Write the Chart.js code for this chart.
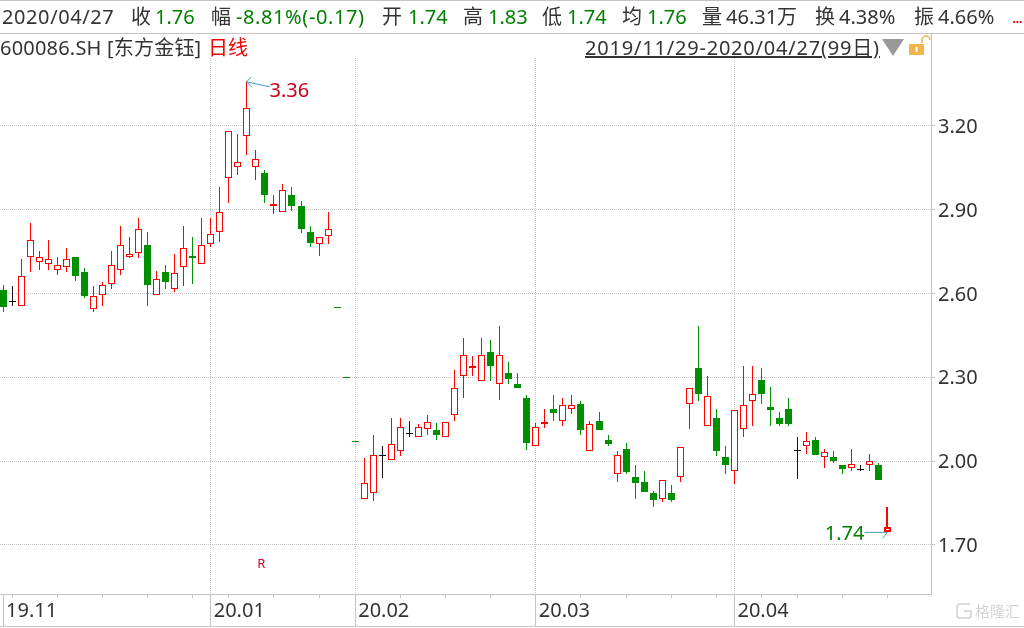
<!DOCTYPE html>
<html>
<head>
<meta charset="utf-8">
<script src="https://cdn.jsdelivr.net/npm/chart.js@4"></script>
<style>
  html, body { margin: 0; padding: 0; background: #fff; }
  #wrap { position: relative; width: 1024px; height: 628px; overflow: hidden; font-family: "Noto Sans", "Noto Sans CJK SC", sans-serif; color: #333; }
  #wrap canvas { position: absolute; left: 0; top: 0; }
  .t { position: absolute; top: 4px; font-size: 20px; line-height: 26px; white-space: nowrap; }
  .r2 { top: 35px; }
  .g { color: #008000; }
  .hline { position: absolute; left: 0; width: 1024px; height: 1px; background: #c4c4c4; }
</style>
</head>
<body>
<div id="wrap">
  <canvas id="chart" width="1024" height="628"></canvas>

  <div class="hline" style="top:0"></div>
  <div class="hline" style="top:33px"></div>
  <div class="hline" style="top:626px"></div>
  <div style="position:absolute;left:931px;top:33px;width:1px;height:25px;background:#c4c4c4"></div>

  <span class="t" style="left:2px;letter-spacing:.6px">2020/04/27</span>
  <span class="t" style="left:131px">收</span><span class="t g" style="left:155px">1.76</span>
  <span class="t" style="left:211px">幅</span><span class="t g" style="left:236px;letter-spacing:.6px">-8.81%(-0.17)</span>
  <span class="t" style="left:382px">开</span><span class="t g" style="left:408px">1.74</span>
  <span class="t" style="left:463px">高</span><span class="t g" style="left:488px">1.83</span>
  <span class="t" style="left:542px">低</span><span class="t g" style="left:567px">1.74</span>
  <span class="t" style="left:622px">均</span><span class="t g" style="left:647px">1.76</span>
  <span class="t" style="left:702px">量</span><span class="t" style="left:726px">46.31万</span>
  <span class="t" style="left:815px">换</span><span class="t" style="left:839px">4.38%</span>
  <span class="t" style="left:914px">振</span><span class="t" style="left:938px">4.66%</span>
  <span class="t" style="left:1012px;font-size:16px;letter-spacing:-1px;color:#e00000">...</span>

  <span class="t r2" style="left:0;letter-spacing:.2px">600086.SH [东方金钰]</span>
  <span class="t r2" style="left:208px;color:#f00000">日线</span>
  <span class="t r2" style="left:585px;letter-spacing:.8px;text-decoration:underline">2019/11/29-2020/04/27(99日)</span>
  <div style="position:absolute;left:882px;top:39px;width:0;height:0;border-left:11px solid transparent;border-right:11px solid transparent;border-top:17px solid #999"></div>
  <svg style="position:absolute;left:906px;top:34px" width="26" height="24">
    <rect x="3" y="10" width="15" height="11" rx="1" fill="#f0b44a"/>
    <rect x="9.5" y="13" width="2" height="5" fill="#fff"/>
    <path d="M16 9 V6 a4 4 0 0 1 8 0" fill="none" stroke="#f0b44a" stroke-width="1.5"/>
  </svg>

  <svg style="position:absolute;left:954px;top:601px" width="20" height="20">
    <path d="M16 3 H6 a3 3 0 0 0 -3 3 V14 a3 3 0 0 0 3 3 H14 a3 3 0 0 0 3 -3 V10 H10" fill="none" stroke="#dcdcdc" stroke-width="2"/>
  </svg>
  <span class="t" style="left:975px;top:598px;font-size:15px;color:#d4d4d4">格隆汇</span>
</div>

<script>
// one entry per trading day (99)
const opens = [2.612,2.571,2.554,2.732,2.714,2.704,2.682,2.693,2.730,2.673,2.543,2.593,2.632,2.682,2.732,2.743,2.773,2.593,2.673,2.614,
  2.693,2.733,2.704,2.775,2.821,3.014,3.054,3.164,3.054,3.030,2.913,2.892,2.951,2.912,2.818,2.775,2.804,2.551,2.3005,2.0715,
  1.864,1.886,2.021,2.004,2.036,2.100,2.086,2.114,2.111,2.086,2.164,2.304,2.332,2.286,2.390,2.275,2.312,2.273,2.223,2.054,
  2.134,2.183,2.143,2.186,2.201,2.036,2.140,2.073,1.954,2.040,1.940,1.923,1.883,1.863,1.883,1.943,2.204,2.330,2.125,2.151,
  2.012,1.964,2.114,2.214,2.289,2.190,2.151,2.183,2.039,2.054,2.073,2.014,2.012,1.983,1.975,1.969,1.986,1.983,1.745];
const closes = [2.552,2.571,2.661,2.789,2.729,2.721,2.700,2.721,2.663,2.592,2.589,2.629,2.700,2.771,2.739,2.829,2.631,2.650,2.642,2.671,
  2.761,2.727,2.771,2.811,2.889,3.179,3.068,3.261,3.079,2.951,2.918,2.968,2.912,2.830,2.781,2.800,2.829,2.549,2.2995,2.0705,
  1.921,2.021,2.021,2.061,2.121,2.100,2.121,2.139,2.092,2.139,2.261,2.379,2.339,2.379,2.342,2.379,2.292,2.263,2.063,2.121,
  2.139,2.173,2.200,2.200,2.113,2.132,2.113,2.062,2.021,1.962,1.923,1.890,1.862,1.932,1.862,2.050,2.261,2.240,2.232,2.035,
  1.985,2.182,2.200,2.239,2.240,2.183,2.133,2.133,2.039,2.071,2.023,2.032,2.001,1.973,1.989,1.969,2.000,1.933,1.764];
const highs = [2.630,2.623,2.723,2.851,2.750,2.790,2.730,2.762,2.730,2.690,2.623,2.640,2.751,2.840,2.801,2.869,2.819,2.680,2.701,2.740,
  2.840,2.801,2.869,2.869,2.980,3.179,3.169,3.357,3.112,3.040,2.951,2.990,2.980,2.930,2.840,2.800,2.890,2.551,2.3005,2.0715,
  2.011,2.090,2.051,2.151,2.151,2.140,2.132,2.162,2.133,2.139,2.323,2.440,2.373,2.440,2.430,2.480,2.351,2.312,2.233,2.133,
  2.183,2.233,2.223,2.233,2.212,2.140,2.173,2.090,2.033,2.062,1.983,1.962,1.890,1.932,1.912,2.050,2.261,2.480,2.301,2.183,
  2.051,2.182,2.340,2.340,2.330,2.262,2.173,2.223,2.083,2.101,2.083,2.040,2.033,1.983,2.040,1.983,2.023,1.990,1.833];
const lows = [2.535,2.556,2.554,2.677,2.685,2.685,2.667,2.677,2.645,2.585,2.535,2.556,2.617,2.667,2.727,2.727,2.556,2.593,2.617,2.606,
  2.627,2.635,2.704,2.767,2.783,2.925,3.023,3.094,3.005,2.923,2.883,2.892,2.894,2.815,2.767,2.733,2.776,2.549,2.2995,2.0705,
  1.864,1.856,1.938,2.004,2.017,2.088,2.086,2.095,2.077,2.086,2.145,2.227,2.305,2.286,2.288,2.217,2.277,2.263,2.038,2.054,
  2.117,2.145,2.127,2.167,2.095,2.036,2.113,2.055,1.926,1.955,1.865,1.890,1.837,1.855,1.855,1.926,2.115,2.215,2.125,2.017,
  1.955,1.917,2.088,2.127,2.206,2.127,2.126,2.126,1.937,2.026,2.023,1.976,1.994,1.955,1.965,1.965,1.965,1.933,1.745];

const monthDays = [0, 23, 39, 59, 81];
const monthLabels = ["19.11", "20.01", "20.02", "20.03", "20.04"];
const minorDays = [1, 6, 11, 16, 21, 25, 30, 35, 44, 49, 54, 64, 69, 74, 79, 84, 88, 93, 98];
const priceTicks = [1.7, 2.0, 2.3, 2.6, 2.9, 3.2];

const RED = "#ff0000", GREEN = "#008f00", BLACK = "#111111";
const GRID = "#c4c4c4";
const FONT = '"Noto Sans", "Noto Sans CJK SC", sans-serif';
const lastDay = opens.length - 1;

const candleColor = i => closes[i] > opens[i] ? RED : closes[i] < opens[i] ? GREEN : BLACK;
const colors = opens.map((_, i) => candleColor(i));
const bodyFill = colors.map(c => c === RED ? "#ffffff" : c);

// bars come out blurry on fractional pixels, so snap them before drawing
const snapBars = {
  id: "snapBars",
  beforeDatasetsDraw(chart) {
    chart.data.datasets.forEach((ds, d) => {
      chart.getDatasetMeta(d).data.forEach((bar, i) => {
        bar.x = Math.floor(bar.x) + 0.5;
        const top = Math.floor(Math.min(bar.y, bar.base));
        const bottom = Math.max(Math.round(Math.max(bar.y, bar.base)), top + 1);
        bar.y = top;
        bar.base = bottom;
        // the selected day has a heavier wick
        if (ds.label === "wick" && i === lastDay) {
          bar.x -= 0.5;
          bar.width = 2;
        }
      });
    });
  }
};

// high / low callouts and the little R flag
const callouts = {
  id: "callouts",
  afterDatasetsDraw(chart) {
    const { ctx, scales: { x, y } } = chart;
    const hiIdx = highs.indexOf(Math.max(...highs));
    const loIdx = lows.indexOf(Math.min(...lows));
    const hx = Math.floor(x.getPixelForValue(hiIdx)) + 0.5, hy = y.getPixelForValue(highs[hiIdx]);
    const lx = Math.floor(x.getPixelForValue(loIdx)) + 0.5, ly = y.getPixelForValue(lows[loIdx]);
    ctx.save();
    ctx.lineWidth = 1;
    ctx.strokeStyle = "#3b9dbd";

    ctx.beginPath();
    ctx.moveTo(hx + 23, hy + 5);
    ctx.lineTo(hx, hy);
    ctx.moveTo(hx + 5, hy - 5);
    ctx.lineTo(hx, hy);
    ctx.lineTo(hx + 5, hy + 5);
    ctx.stroke();

    ctx.beginPath();
    ctx.moveTo(lx - 23, ly);
    ctx.lineTo(lx, ly);
    ctx.moveTo(lx - 5, ly + 6);
    ctx.lineTo(lx, ly);
    ctx.stroke();

    ctx.font = "20px " + FONT;
    ctx.textBaseline = "middle";
    ctx.textAlign = "left";
    ctx.fillStyle = "#c8001e";
    ctx.fillText("3.36", hx + 23, hy + 9);
    ctx.fillStyle = "#008000";
    ctx.textAlign = "right";
    ctx.fillText("1.74", lx - 23, ly + 2);

    ctx.font = "13px " + FONT;
    ctx.fillStyle = "#e0002a";
    ctx.textAlign = "center";
    ctx.fillText("R", x.getPixelForValue(28.6), y.getPixelForValue(1.632));
    ctx.restore();
  }
};

new Chart(document.getElementById("chart"), {
  type: "bar",
  data: {
    datasets: [
      {
        label: "body",
        data: opens.map((o, i) => ({ x: i, y: [o, closes[i]] })),
        backgroundColor: bodyFill,
        borderColor: colors,
        borderWidth: c => c.dataIndex === lastDay ? 2 : 1,
        borderSkipped: false,
        barThickness: 7,
        inflateAmount: 0,
        grouped: false,
        order: 0
      },
      {
        label: "wick",
        data: lows.map((l, i) => ({ x: i, y: [l, highs[i]] })),
        backgroundColor: colors,
        borderWidth: 0,
        barThickness: 1,
        inflateAmount: 0,
        grouped: false,
        order: 1
      }
    ]
  },
  options: {
    responsive: false,
    devicePixelRatio: 1,
    animation: false,
    layout: { padding: { top: 58, left: 0, right: 0, bottom: 0 } },
    plugins: { legend: { display: false }, tooltip: { enabled: false } },
    scales: {
      x: {
        type: "linear",
        offset: false,
        min: -0.333,
        max: 102.764,
        weight: 1,
        afterBuildTicks: axis => { axis.ticks = monthDays.map(v => ({ value: v })); },
        afterFit: axis => { axis.height = 34; },
        ticks: {
          autoSkip: false,
          maxRotation: 0,
          align: "start",
          labelOffset: 3,
          padding: -27,
          color: "#333",
          font: { family: FONT, size: 20 },
          callback: v => monthLabels[monthDays.indexOf(v)]
        },
        border: { display: true, color: GRID, dash: [1, 1] },
        grid: {
          offset: false,
          color: c => c.index === 0 ? "rgba(0,0,0,0)" : GRID,
          tickColor: GRID,
          tickLength: 32,
          tickBorderDash: [1, 0]
        }
      },
      // short marks along the bottom edge
      minor: {
        type: "linear",
        axis: "x",
        position: "bottom",
        offset: false,
        min: -0.333,
        max: 102.764,
        weight: 0,
        afterBuildTicks: axis => { axis.ticks = minorDays.map(v => ({ value: v })); },
        afterFit: axis => { axis.height = 0; },
        ticks: { display: false, autoSkip: false },
        border: { display: false },
        grid: { offset: false, drawOnChartArea: false, tickColor: GRID, tickLength: 4 }
      },
      y: {
        position: "right",
        min: 1.5245,
        max: 3.4422,
        afterBuildTicks: axis => { axis.ticks = priceTicks.map(v => ({ value: v })); },
        afterFit: axis => { axis.width = 93; },
        ticks: {
          padding: 3,
          labelOffset: 1.5,
          color: "#333",
          font: { family: FONT, size: 20 },
          callback: v => v.toFixed(2)
        },
        border: { display: true, color: GRID, dash: [1, 1] },
        grid: {
          color: GRID,
          tickColor: GRID,
          tickLength: 4,
          tickBorderDash: [1, 0]
        }
      }
    }
  },
  plugins: [snapBars, callouts]
});
</script>
</body>
</html>
